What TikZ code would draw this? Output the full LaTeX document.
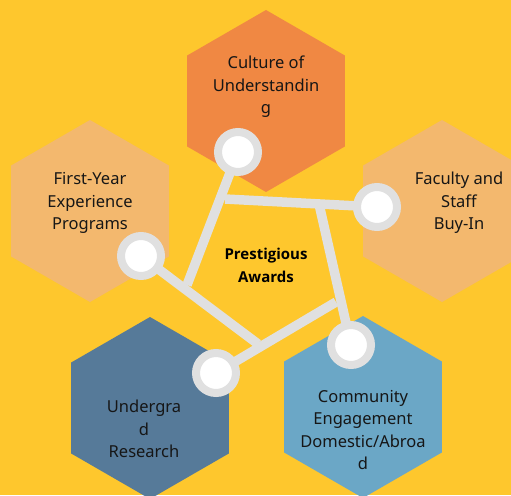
\documentclass[tikz,border=0pt]{standalone}
\usepackage{fontspec}
\setmainfont{Noto Sans}
\newfontfamily\hubfont{Open Sans}

\definecolor{bgyellow}{HTML}{FEC72D}
\definecolor{hexorange}{HTML}{F08843}
\definecolor{hexsand}{HTML}{F3B86E}
\definecolor{hexslate}{HTML}{567A99}
\definecolor{hexsky}{HTML}{6BA7C6}
\definecolor{ringgray}{HTML}{E0E0E0}
\definecolor{inkdark}{HTML}{161616}

\tikzset{
  link/.style={draw=ringgray, line width=9.5pt},
  ring/.style={circle, fill=white, draw=ringgray, line width=8pt, minimum size=40pt, inner sep=0pt},
  lbl/.style={align=center, text=inkdark, font=\fontsize{16.5}{22.5}\selectfont},
  hublbl/.style={align=center, text=black, font=\hubfont\bfseries\fontsize{15}{23}\selectfont}
}

\begin{document}
\begin{tikzpicture}[x=1pt,y=-1pt]
\clip (0,0) rectangle (511,495);
\fill[bgyellow] (0,0) rectangle (511,495);
\foreach \cx/\cy/\col in {266/101/hexorange, 90/211/hexsand, 442/211/hexsand, 150/408/hexslate, 363/407/hexsky}
  \fill[\col] (\cx,\cy) +(30:91) -- +(90:91) -- +(150:91) -- +(210:91) -- +(270:91) -- +(330:91) -- cycle;
\coordinate (p1) at (225,199);
\coordinate (p2) at (319,204);
\coordinate (p3) at (336,302);
\coordinate (p4) at (258,344);
\coordinate (p5) at (187,285);
\coordinate (cTop) at (238,152);
\coordinate (cRight) at (377,207);
\coordinate (cLowR) at (351,345);
\coordinate (cLowL) at (216,373);
\coordinate (cLeft) at (141,256);
\draw[link] (p5) -- (cTop);
\draw[link] (p1) -- (cRight);
\draw[link] (p2) -- (cLowR);
\draw[link] (p3) -- (cLowL);
\draw[link] (p4) -- (cLeft);
\node[ring] (rTop) at (cTop) {};
\node[ring] (rRight) at (cRight) {};
\node[ring] (rLowR) at (cLowR) {};
\node[ring] (rLowL) at (cLowL) {};
\node[ring] (rLeft) at (cLeft) {};
\node[lbl] (culture) at (266,87) {Culture of\\Understandin\\g};
\node[lbl] (firstyear) at (90,203) {First-Year\\Experience\\Programs};
\node[lbl] (faculty) at (459,203) {Faculty and\\Staff\\Buy-In};
\node[lbl] (research) at (144,429) {Undergra\\d\\Research};
\node[lbl] (community) at (363,430) {Community\\Engagement\\Domestic/Abroa\\d};
\node[hublbl] (awards) at (266,265) {Prestigious\\Awards};
\end{tikzpicture}
\end{document}
